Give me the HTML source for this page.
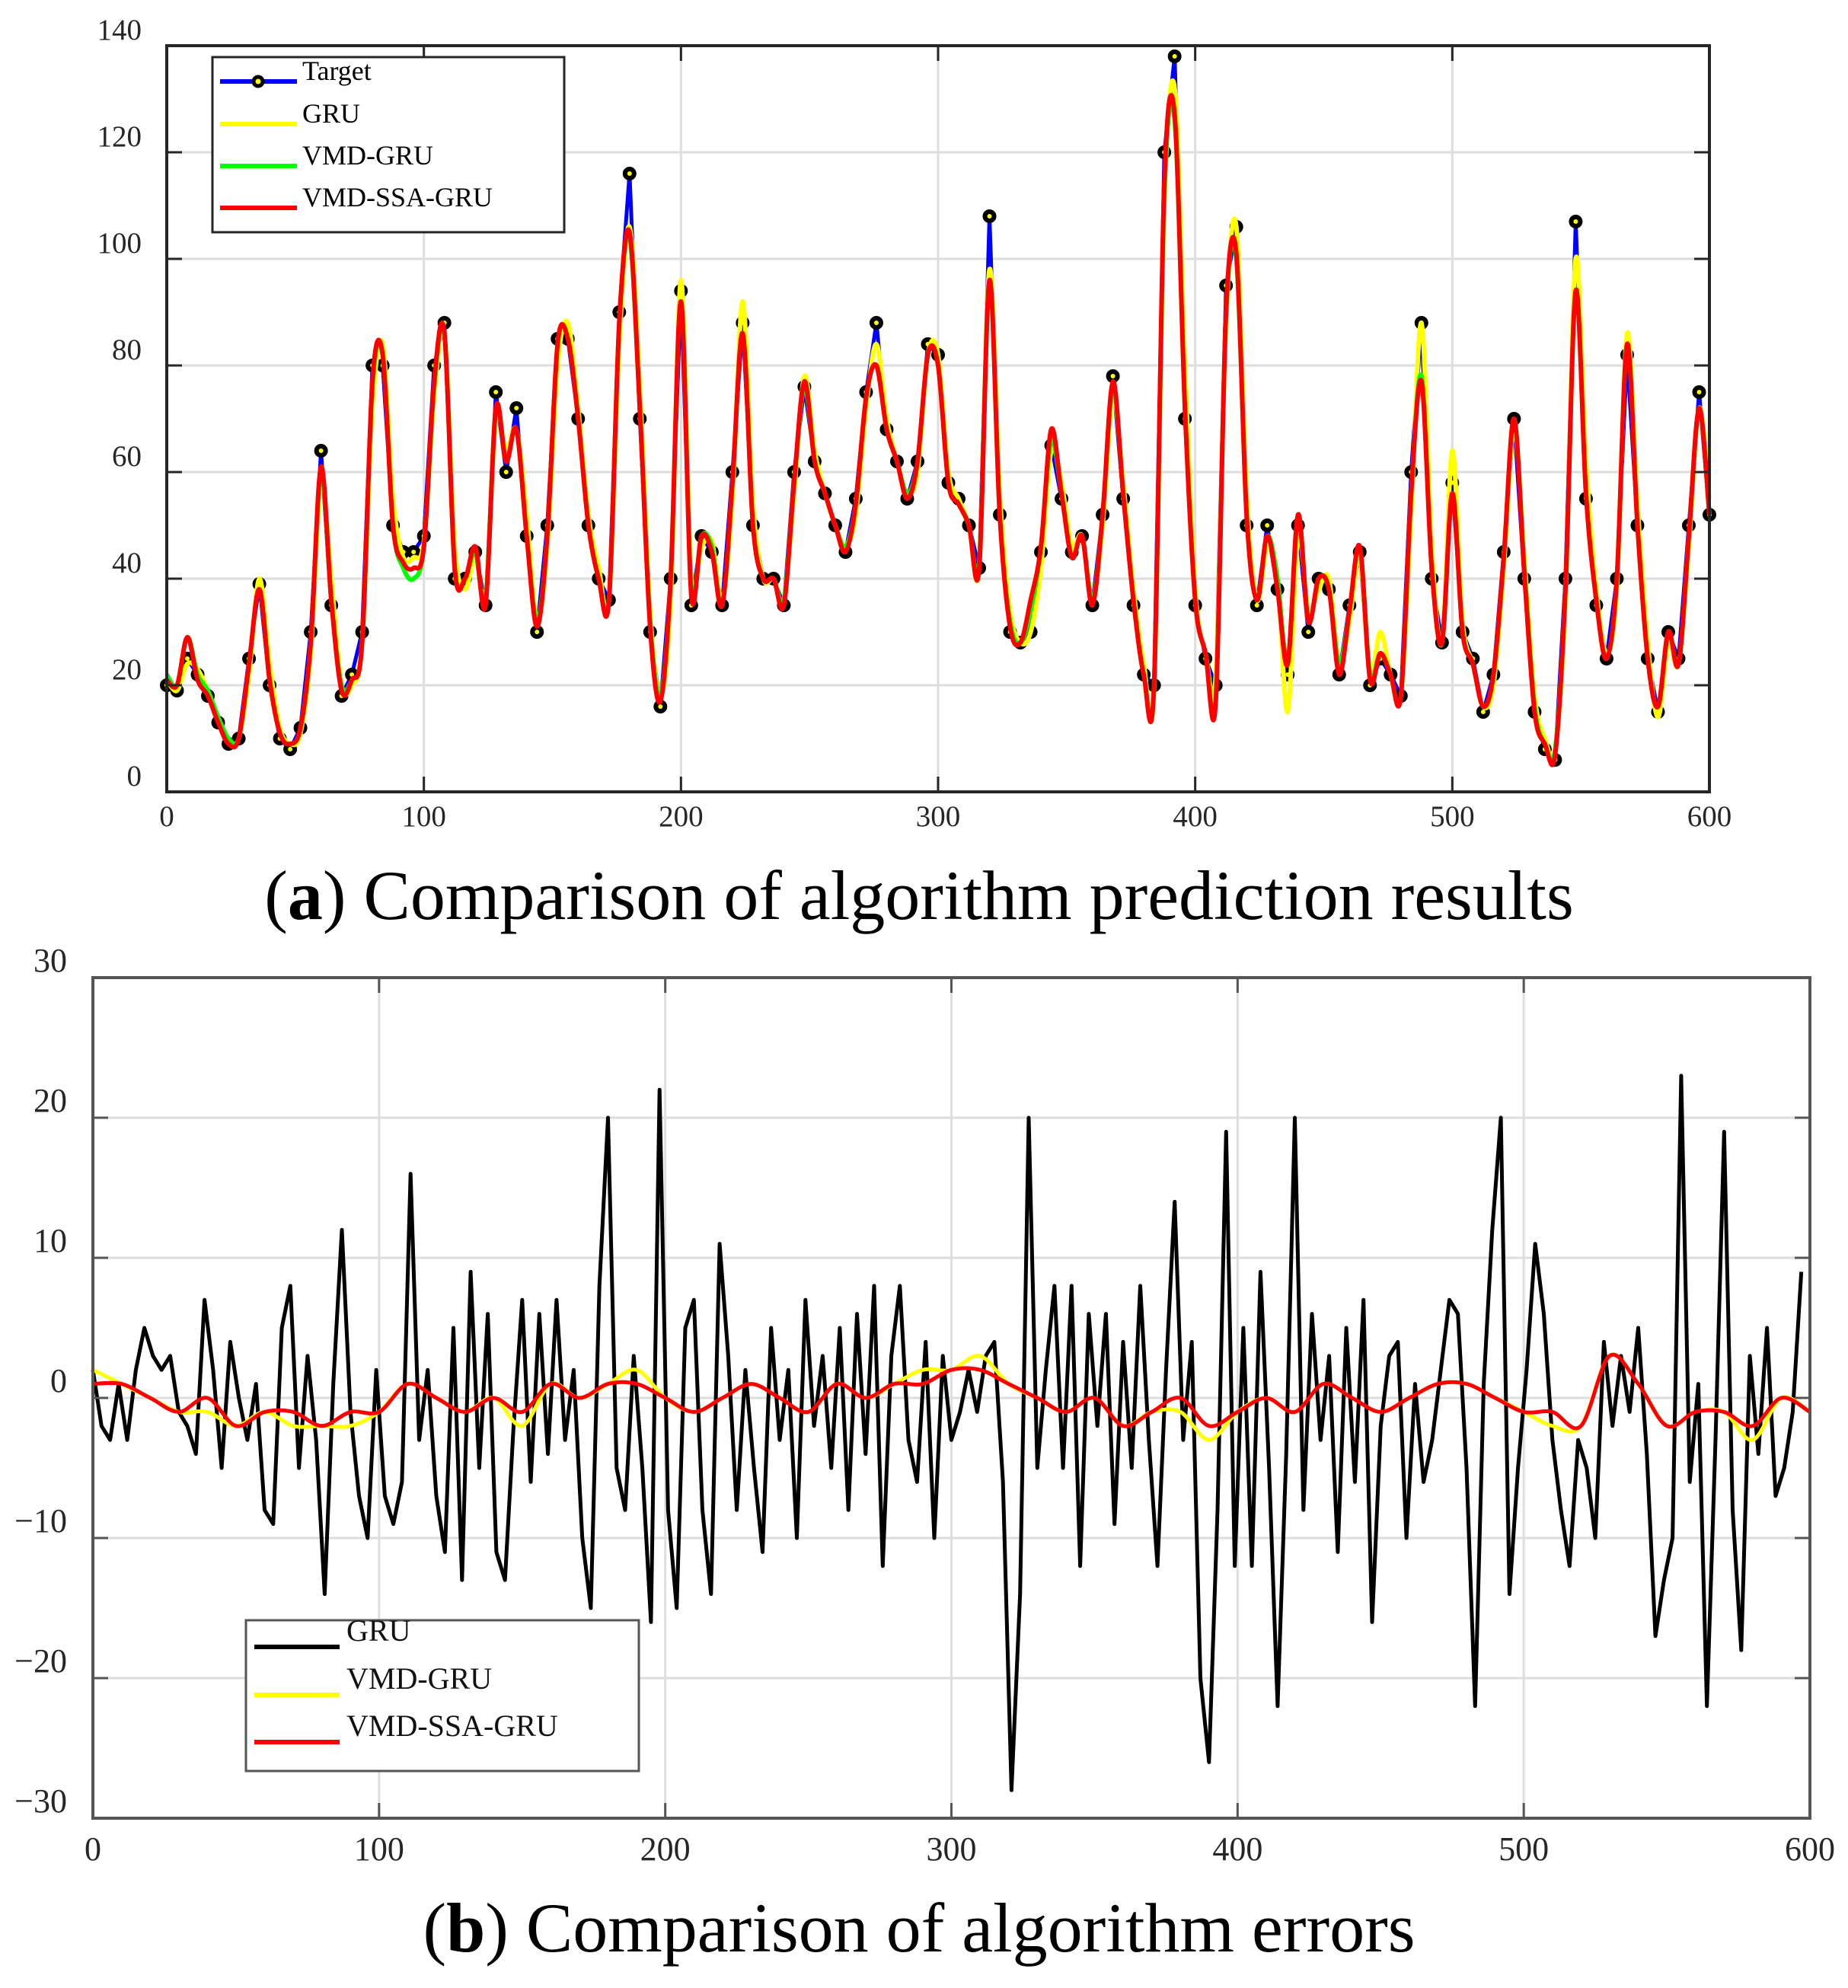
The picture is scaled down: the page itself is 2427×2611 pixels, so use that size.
<!DOCTYPE html>
<html><head><meta charset="utf-8">
<style>
html,body{margin:0;padding:0;background:#fff;}
svg{display:block;font-family:"Liberation Serif",serif;}
</style></head>
<body>
<svg id="chart" width="2427" height="2611" viewBox="0 0 2427 2611" xmlns="http://www.w3.org/2000/svg">
<rect width="2427" height="2611" fill="#fff"/>
<g id="topPlot"></g>
<g id="botPlot"></g>
<text x="1207" y="1207" font-size="92" text-anchor="middle" fill="#000">(<tspan font-weight="bold">a</tspan>) Comparison of algorithm prediction results</text>
<text x="1207" y="2563" font-size="92" text-anchor="middle" fill="#000">(<tspan font-weight="bold">b</tspan>) Comparison of algorithm errors</text>
</svg>
<script>
// ---------- data: top chart (x step 4) ----------
const topStep = 4;
const targetVals = [20,19,25,22,18,13,9,10,25,39,20,10,8,12,30,64,35,18,22,30,80,80,50,45,45,48,80,88,40,40,45,35,75,60,72,48,30,50,85,85,70,50,40,36,90,116,70,30,16,40,94,35,48,45,35,60,88,50,40,40,35,60,76,62,56,50,45,55,75,88,68,62,55,62,84,82,58,55,50,42,108,52,30,28,30,45,65,55,45,48,35,52,78,55,35,22,20,120,138,70,35,25,20,95,106,50,35,50,38,22,50,30,40,38,22,35,45,20,25,22,18,60,88,40,28,58,30,25,15,22,45,70,40,15,8,6,40,107,55,35,25,40,82,50,25,15,30,25,50,75,52];
const gruVals = [21,19,24,23,19,14,10,10,22,40,24,12,9,11,26,58,40,20,20,28,72,84,55,44,44,47,74,86,46,38,44,37,70,64,68,52,32,46,80,88,72,52,42,36,84,106,76,34,18,36,96,40,46,47,36,55,92,54,40,40,36,56,78,64,56,50,46,52,72,84,70,62,56,60,82,82,60,55,50,42,98,56,34,28,30,42,64,58,46,48,36,50,74,58,38,24,19,110,132,80,38,26,22,88,106,56,36,46,40,15,48,34,38,40,24,32,44,22,30,22,18,52,88,46,28,64,32,24,16,20,42,68,44,18,10,8,36,100,62,38,26,38,86,54,28,14,28,24,46,72,55];
const vmdVals = [22,20,29,22,19,14,10,10,24,38,21,11,9,12,28,60,36,20,21,28,76,82,50,42,40,46,76,86,42,40,45,36,72,62,68,48,32,48,84,85,70,50,40,36,88,104,72,32,18,40,92,38,48,46,35,58,86,50,40,40,36,58,76,62,56,50,46,54,74,80,68,62,56,62,82,80,58,54,50,43,96,52,32,28,34,46,66,56,44,48,36,52,76,56,36,22,20,112,126,72,36,26,18,90,100,52,36,48,40,24,52,32,40,38,24,34,46,22,26,22,18,56,78,42,28,56,30,24,16,22,44,70,42,16,9,8,38,94,56,36,25,40,84,50,25,16,30,24,48,72,52];
const ssaVals = [21,20,29,21,18,13,9,10,24,38,21,11,9,12,28,61,36,19,21,28,77,82,50,43,42,46,77,86,42,40,46,35,72,62,68,48,31,48,84,85,70,50,40,36,88,105,72,31,17,40,92,37,48,45,35,58,86,50,40,40,35,58,77,62,56,50,45,54,74,80,68,62,55,62,82,80,58,54,50,42,96,52,31,28,36,46,68,56,44,48,35,52,77,56,36,22,20,114,127,72,36,26,17,90,101,52,36,48,38,24,52,32,40,38,22,34,46,21,26,22,18,56,77,42,28,56,30,24,16,22,44,70,41,15,9,7,38,94,56,36,25,40,84,50,25,16,30,24,48,72,52];
const topXTicks = [0,100,200,300,400,500,600];
const topYTicks = [0,20,40,60,80,100,120,140];
// ---------- data: bottom chart ----------
const gruErrStep = 3;
const gruErr = [2,-2,-3,1,-3,2,5,3,2,3,-1,-2,-4,7,2,-5,4,0,-3,1,-8,-9,5,8,-5,3,-3,-14,1,12,-1,-7,-10,2,-7,-9,-6,16,-3,2,-7,-11,5,-13,9,-5,6,-11,-13,-2,7,-6,6,-4,7,-3,2,-10,-15,8,20,-5,-8,3,-5,-16,22,-8,-15,5,7,-8,-14,11,3,-8,2,-5,-11,5,-3,2,-10,7,-2,3,-5,5,-8,6,-4,8,-12,3,8,-3,-6,4,-10,3,-3,-1,2,-1,3,4,-6,-28,-14,20,-5,2,8,-5,8,-12,6,-2,6,-9,4,-5,8,-3,-12,2,14,-3,4,-20,-26,-8,19,-12,5,-12,9,-5,-22,-4,20,-8,6,-3,3,-11,5,-6,7,-16,-2,3,4,-10,1,-6,-3,2,7,6,-5,-22,1,12,20,-14,-5,2,11,6,-3,-8,-12,-3,-5,-10,4,-2,3,-1,5,-4,-17,-13,-10,23,-6,1,-22,-3,19,-8,-18,3,-4,5,-7,-5,-1,9];
const smallStep = 10;
const vmdErr = [2,1,0,-1,-1,-2,-1,-2,-2,-2,-1,1,0,-1,0,-2,1,0,1,2,0,-1,0,1,0,-1,1,0,1,2,2,3,1,0,-1,0,-2,-1,-1,-3,-1,0,-1,1,0,-1,0,1,1,0,-1,-2,-2,3,1,-2,-1,-1,-3,0,-1];
const ssaErr = [1,1,0,-1,0,-2,-1,-1,-2,-1,-1,1,0,-1,0,-1,1,0,1,1,0,-1,0,1,0,-1,1,0,1,1,2,2,1,0,-1,0,-2,-1,0,-2,-1,0,-1,1,0,-1,0,1,1,0,-1,-1,-2,3,1,-2,-1,-1,-2,0,-1];
const botXTicks = [0,100,200,300,400,500,600];
const botYTicks = [-30,-20,-10,0,10,20,30];

const NS = "http://www.w3.org/2000/svg";
function mk(tag, attrs, parent){const e=document.createElementNS(NS,tag);for(const k in attrs)e.setAttribute(k,attrs[k]);parent.appendChild(e);return e;}

function smoothPath(pts){
  let d = "M"+pts[0][0].toFixed(1)+","+pts[0][1].toFixed(1);
  for(let i=0;i<pts.length-1;i++){
    const p0=pts[Math.max(0,i-1)],p1=pts[i],p2=pts[i+1],p3=pts[Math.min(pts.length-1,i+2)];
    const c1x=p1[0]+(p2[0]-p0[0])/6,c1y=p1[1]+(p2[1]-p0[1])/6;
    const c2x=p2[0]-(p3[0]-p1[0])/6,c2y=p2[1]-(p3[1]-p1[1])/6;
    d+=" C"+c1x.toFixed(1)+","+c1y.toFixed(1)+" "+c2x.toFixed(1)+","+c2y.toFixed(1)+" "+p2[0].toFixed(1)+","+p2[1].toFixed(1);
  }
  return d;
}
function linePath(pts){return pts.map((p,i)=>(i?"L":"M")+p[0].toFixed(1)+","+p[1].toFixed(1)).join(" ");}

function axesFrame(g, L, R, T, B, xs, ys, xTicks, yTicks){
  xTicks.forEach(t=>{
    const gl=mk("line",{x1:xs(t),x2:xs(t),y1:T,y2:B,stroke:"#dedede","stroke-width":3},g);
    
    
  });
  yTicks.forEach(t=>{
    const gl=mk("line",{x1:L,x2:R,y1:ys(t),y2:ys(t),stroke:"#dedede","stroke-width":3},g);
    
    
  });
}
function axesOverlay(g, L, R, T, B, xs, ys, xTicks, yTicks, fs, xLabY, yLabX, col){
  const fr=mk("rect",{x:L,y:T,width:R-L,height:B-T,fill:"none",stroke:col,"stroke-width":4},g);
  
  
  xTicks.forEach(t=>{
    mk("line",{x1:xs(t),x2:xs(t),y1:B,y2:B-20,stroke:col,"stroke-width":3},g);
    mk("line",{x1:xs(t),x2:xs(t),y1:T,y2:T+20,stroke:col,"stroke-width":3},g);
    const tx=mk("text",{x:xs(t),y:xLabY,"font-size":fs,"text-anchor":"middle",fill:"#262626"},g);
    tx.textContent=t;
    
    
  });
  yTicks.forEach(t=>{
    mk("line",{x1:L,x2:L+20,y1:ys(t),y2:ys(t),stroke:col,"stroke-width":3},g);
    mk("line",{x1:R,x2:R-20,y1:ys(t),y2:ys(t),stroke:col,"stroke-width":3},g);
    const tx=mk("text",{x:yLabX,y:ys(t)-8,"font-size":fs,"text-anchor":"end",fill:"#262626"},g);
    tx.textContent=(t<0?"\u2212"+(-t):t);
    
    
  });
}

// ---------- top chart ----------
(function(){
  const g=document.getElementById("topPlot");
  const L=219,R=2245,T=60,B=1040;
  const xs=v=>L+(v/600)*(R-L), ys=v=>B-(v/140)*(B-T);
  axesFrame(g,L,R,T,B,xs,ys,topXTicks,topYTicks);
  const pts=a=>a.map((v,i)=>[xs(i*topStep),ys(v)]);
  const tgt=mk("path",{d:linePath(pts(targetVals)),fill:"none",stroke:"#0000ff","stroke-width":5},g);
  
  
  targetVals.forEach((v,i)=>{
    const c=mk("circle",{cx:xs(i*topStep),cy:ys(v),r:6,fill:"#ffff00",stroke:"#000","stroke-width":6},g);
    
    
  });
  [[gruVals,"#ffff00","gru-line"],[vmdVals,"#00ff00","vmd-gru-line"],[ssaVals,"#ff0000","vmd-ssa-gru-line"]].forEach(s=>{
    const p=mk("path",{d:smoothPath(pts(s[0])),fill:"none",stroke:s[1],"stroke-width":6,"stroke-linejoin":"round"},g);
    
    
  });
  axesOverlay(g,L,R,T,B,xs,ys,topXTicks,topYTicks,39,1085,186,"#262626");
  const lg=mk("g",{},g);
  
  
  mk("rect",{x:279,y:75,width:462,height:230,fill:"#fff",stroke:"#262626","stroke-width":3},lg);
  const items=[["Target","#0000ff",107],["GRU","#ffff00",163],["VMD-GRU","#00ff00",218],["VMD-SSA-GRU","#ff0000",273]];
  items.forEach((it,i)=>{
    const e=mk("g",{},lg);
    
    
    mk("line",{x1:289,x2:390,y1:it[2],y2:it[2],stroke:it[1],"stroke-width":6},e);
    if(i===0) mk("circle",{cx:339,cy:it[2],r:6,fill:"#ffff00",stroke:"#000","stroke-width":5},e);
    const t=mk("text",{x:397,y:it[2]-2,"font-size":36,fill:"#000"},e);
    t.textContent=it[0];
  });
})();

// ---------- bottom chart ----------
(function(){
  const g=document.getElementById("botPlot");
  const L=122,R=2377,T=1284,B=2388;
  const xs=v=>L+(v/600)*(R-L), ys=v=>B-((v+30)/60)*(B-T);
  axesFrame(g,L,R,T,B,xs,ys,botXTicks,botYTicks);
  const gp=mk("path",{d:linePath(gruErr.map((v,i)=>[xs(i*gruErrStep),ys(v)])),fill:"none",stroke:"#000","stroke-width":5,"stroke-linejoin":"round"},g);
  
  
  const vp=mk("path",{d:smoothPath(vmdErr.map((v,i)=>[xs(i*smallStep),ys(v)])),fill:"none",stroke:"#ffff00","stroke-width":5},g);
  
  
  const sp=mk("path",{d:smoothPath(ssaErr.map((v,i)=>[xs(i*smallStep),ys(v)])),fill:"none",stroke:"#ff0000","stroke-width":5},g);
  
  
  axesOverlay(g,L,R,T,B,xs,ys,botXTicks,botYTicks,44,2443,88,"#555");
  const lg=mk("g",{},g);
  
  
  mk("rect",{x:323,y:2128,width:516,height:198,fill:"#fff",stroke:"#555","stroke-width":3},lg);
  [["GRU","#000",2163],["VMD-GRU","#ffff00",2226],["VMD-SSA-GRU","#ff0000",2288]].forEach(it=>{
    const e=mk("g",{},lg);
    
    
    mk("line",{x1:334,x2:446,y1:it[2],y2:it[2],stroke:it[1],"stroke-width":6},e);
    const t=mk("text",{x:455,y:it[2]-8,"font-size":40,fill:"#111"},e);
    t.textContent=it[0];
  });
})();
</script>
</body></html>
